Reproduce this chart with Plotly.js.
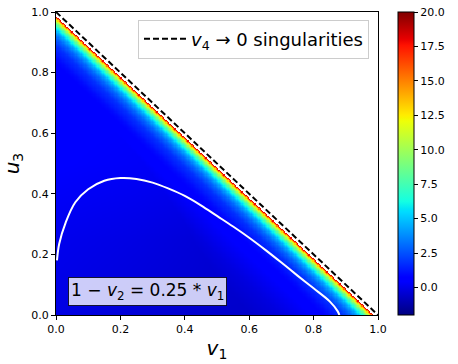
<!DOCTYPE html>
<html>
<head>
<meta charset="utf-8">
<script src="https://cdn.plot.ly/plotly-3.0.1.min.js"></script>
<style>
  html, body { margin: 0; padding: 0; background: #fff; }
  #plot { width: 458px; height: 364px; }
</style>
</head>
<body>
<div id="plot"></div>
<script>
/* values */

// across the band: value against distance d = 1 - v1 - u3 from the singular line
var bandD = [0.013, 0.015, 0.018, 0.021, 0.025, 0.03, 0.038, 0.048, 0.063, 0.083, 0.11, 0.155, 0.21, 0.3, 0.5];
var bandZ = [20, 18.5, 16.5, 14.5, 12.5, 10.5, 8.5, 6.5, 4.5, 3, 1.8, 0.9, 0.4, -0.2, -1];

// far from the band (rows: u3, columns: v1)
var bgV1 = [0, 0.25, 0.5, 0.75, 1];
var bgU3 = [0, 0.25, 0.5, 0.75, 1];
var bgZ = [
  [-0.1, -0.35, -0.55, -0.6, -0.6],
  [ 0.1, -0.1,  -0.4,  -0.5, -0.5],
  [ 0.45, 0.3,   0.1,   0.1,  0.1],
  [ 0.55, 0.5,   0.4,   0.4,  0.4],
  [ 0.6,  0.6,   0.6,   0.6,  0.6]
];

// white curve  1 - v2 = 0.25 v1
var curveV1 = [0.003, 0.01, 0.03, 0.06, 0.1, 0.15, 0.2, 0.25, 0.3, 0.35, 0.4, 0.45, 0.5, 0.55, 0.6, 0.65, 0.7, 0.75, 0.8, 0.85, 0.875, 0.88];
var curveU3 = [0.18, 0.235, 0.305, 0.372, 0.415, 0.443, 0.452, 0.449, 0.437, 0.417, 0.393, 0.362, 0.327, 0.292, 0.255, 0.215, 0.173, 0.13, 0.088, 0.045, 0.012, 0.0];

// v4 -> 0 line
var singV1 = [0, 1];
var singU3 = [1, 0];

var axisTicks = [0, 0.2, 0.4, 0.6, 0.8, 1.0];
var cbTicks = [0, 2.5, 5, 7.5, 10, 12.5, 15, 17.5, 20];

/* matplotlib jet */
var jet = [
  [0.0, 'rgb(0,0,128)'], [0.11, 'rgb(0,0,255)'], [0.125, 'rgb(0,0,255)'],
  [0.34, 'rgb(0,219,255)'], [0.35, 'rgb(0,229,247)'], [0.375, 'rgb(20,255,226)'],
  [0.64, 'rgb(238,255,8)'], [0.65, 'rgb(247,245,0)'], [0.66, 'rgb(255,236,0)'],
  [0.89, 'rgb(255,18,0)'], [0.91, 'rgb(232,0,0)'], [1.0, 'rgb(128,0,0)']
];

function lin(xs, ys, x) {
  if (x <= xs[0]) return ys[0];
  for (var k = 1; k < xs.length; k++) {
    if (x <= xs[k]) {
      var t = (x - xs[k - 1]) / (xs[k] - xs[k - 1]);
      return ys[k - 1] + t * (ys[k] - ys[k - 1]);
    }
  }
  return ys[ys.length - 1];
}

function bg(v, u) {
  var col = [];
  for (var r = 0; r < bgU3.length; r++) col.push(lin(bgV1, bgZ[r], v));
  return lin(bgU3, col, u);
}

/* heatmap table */
var h = 0.004, n = 250;
var gx = [];
for (var i = 0; i < n; i++) gx.push((i + 0.5) * h);
var gy = gx.slice();
var gz = [];
for (var j = 0; j < n; j++) {
  var row = [];
  for (var i = 0; i < n; i++) {
    var d = 1 - gx[i] - gy[j];
    if (d < bandD[0]) { row.push(null); continue; }
    row.push(Math.max(lin(bandD, bandZ, d), bg(gx[i], gy[j])));
  }
  gz.push(row);
}

var heat = {
  type: 'heatmap',
  x: gx, y: gy, z: gz,
  colorscale: jet, zmin: -2, zmax: 20,
  zsmooth: false,
  hoverinfo: 'skip',
  showlegend: false,
  colorbar: {
    x: 1.0615, xanchor: 'left', xpad: 0,
    y: 0.5, yanchor: 'middle', len: 1.0, ypad: 0,
    thickness: 16, outlinewidth: 1, outlinecolor: 'black',
    tickvals: cbTicks, tickformat: '.1f',
    ticks: 'outside', ticklen: 4, tickwidth: 1, tickcolor: 'black',
    tickfont: {size: 11, color: 'black'}
  }
};

var curve = {
  type: 'scatter', mode: 'lines',
  x: curveV1, y: curveU3,
  line: {color: 'white', width: 2, shape: 'spline'},
  hoverinfo: 'skip', showlegend: false
};

var sing = {
  type: 'scatter', mode: 'lines',
  x: singV1, y: singU3,
  name: '<i>v</i><sub>4</sub> \u2192 0 singularities',
  line: {color: 'black', width: 2, dash: '6px,3px'},
  hoverinfo: 'skip'
};

var axisStyle = {
  range: [0, 1], showgrid: false, zeroline: false,
  showline: true, mirror: true, linecolor: 'black', linewidth: 1,
  ticks: 'outside', ticklen: 4, tickwidth: 1, tickcolor: 'black',
  tickvals: axisTicks, tickformat: '.1f',
  tickfont: {size: 11, color: 'black'}
};

var layout = {
  width: 458, height: 364,
  margin: {l: 56, r: 77, t: 12, b: 49},
  paper_bgcolor: 'white', plot_bgcolor: 'white',
  font: {family: 'DejaVu Sans, sans-serif', color: 'black'},
  xaxis: Object.assign({}, axisStyle, {
    title: {text: '<i>v</i><sub>1</sub>', font: {size: 20}, standoff: 5}
  }),
  yaxis: Object.assign({}, axisStyle, {
    title: {text: '<i>u</i><sub>3</sub>', font: {size: 20}, standoff: 10}
  }),
  legend: {
    x: 0.972, xanchor: 'right', y: 0.975, yanchor: 'top',
    bgcolor: 'rgba(255,255,255,0.8)', bordercolor: '#cccccc', borderwidth: 1,
    itemwidth: 42,
    font: {size: 18}
  },
  annotations: [{
    xref: 'paper', yref: 'paper', x: 0.283, y: 0.079,
    xanchor: 'center', yanchor: 'middle', showarrow: false,
    text: '1 \u2212 <i>v</i><sub>2</sub> = 0.25 * <i>v</i><sub>1</sub>',
    font: {size: 17, color: 'black'},
    bgcolor: 'rgba(255,255,255,0.8)', bordercolor: 'rgba(0,0,0,0.8)',
    borderwidth: 1, borderpad: 2
  }]
};

Plotly.newPlot('plot', [heat, curve, sing], layout, {displayModeBar: false, staticPlot: true});
</script>
</body>
</html>
